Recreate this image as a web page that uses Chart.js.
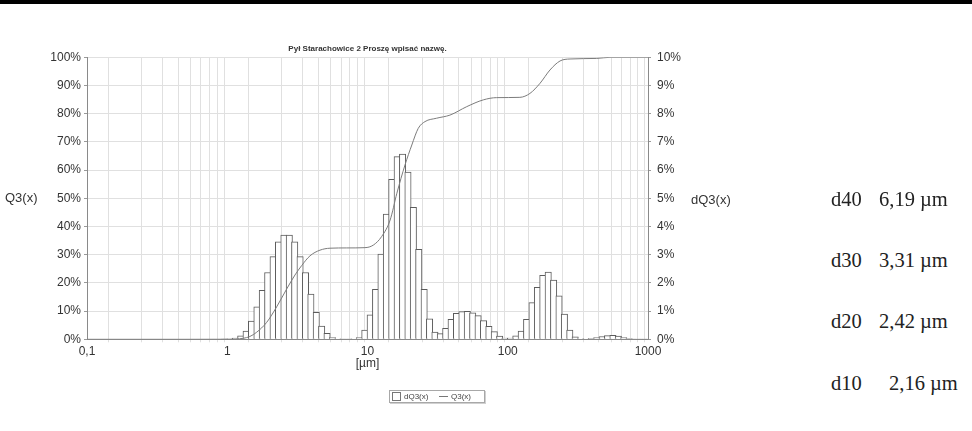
<!DOCTYPE html>
<html>
<head>
<meta charset="utf-8">
<script src="https://cdn.jsdelivr.net/npm/chart.js@4.4.1/dist/chart.umd.min.js"></script>
<style>
html,body{margin:0;padding:0;background:#fff;}
body{width:972px;height:431px;position:relative;overflow:hidden;font-family:"Liberation Sans",Arial,sans-serif;}
#pasek{position:absolute;left:0;top:0;width:972px;height:4px;background:#000;}
#wykres{position:absolute;left:0;top:0;}
.os{position:absolute;font-size:13px;color:#333;line-height:1;transform:translateY(-50%);white-space:nowrap;}
.dval{position:absolute;font-family:"Liberation Serif","Times New Roman",serif;font-size:20.5px;color:#222;line-height:1;transform:translateY(-50%);white-space:nowrap;}
#legenda{position:absolute;left:389px;top:390px;width:94px;height:11px;border:1px solid #a8a8a8;box-shadow:1px 1px 0 #d0d0d0;font-size:8px;color:#444;}
#legenda span{position:absolute;top:1px;line-height:9px;}
#kwadrat{position:absolute;left:2px;top:1px;width:7px;height:7px;border:1px solid #777;background:#fff;}
#kreska{position:absolute;left:49px;top:5px;width:9px;height:1px;background:#777;}
</style>
</head>
<body>
<div id="pasek"></div>
<canvas id="wykres" width="735" height="431"></canvas>
<div class="os" style="left:5px;top:197px;">Q3(x)</div>
<div class="os" style="left:691px;top:199px;">dQ3(x)</div>

<div class="dval" style="left:831px;top:199px;">d40</div>
<div class="dval" style="left:879px;top:199px;">6,19 µm</div>
<div class="dval" style="left:831px;top:260px;">d30</div>
<div class="dval" style="left:879px;top:260px;">3,31 µm</div>
<div class="dval" style="left:831px;top:321px;">d20</div>
<div class="dval" style="left:879px;top:321px;">2,42 µm</div>
<div class="dval" style="left:831px;top:383px;">d10</div>
<div class="dval" style="left:889px;top:383px;">2,16 µm</div>

<div id="legenda">
    <div id="kwadrat"></div><span style="left:14px;">dQ3(x)</span>
    <div id="kreska"></div><span style="left:61px;">Q3(x)</span>
</div>

<script>
//srodki klas ziarnowych [µm] (26 klas na dekade)
const srodkiKlas=[
    0.9567,1.045,1.142,1.248,1.363,1.490,1.628,1.778,1.943,2.123,2.320,2.535,2.769,3.026,3.306,3.612,3.947,4.312,4.711,5.148,5.624,6.145,6.714,7.336,8.015,8.757,9.568,
    10.45,11.42,12.48,13.63,14.90,16.28,17.78,19.43,21.23,23.20,25.35,27.69,30.26,33.06,36.12,39.47,43.12,47.11,51.48,56.24,61.45,67.14,73.36,80.15,87.57,95.68,
    104.5,114.2,124.8,136.3,149.0,162.8,177.8,194.3,212.3,232.0,253.5,276.9,302.6,330.6,361.2,394.7,431.2,471.1,514.8,562.4,614.5,671.4,733.6,801.5,875.7,956.8
];
const dQ3=[
    0.01,0.02,0.04,0.12,0.29,0.65,1.15,1.74,2.37,2.93,3.46,3.70,3.70,3.46,2.93,2.37,1.60,0.96,0.47,0.21,0.06,0.02,0.01,0.01,0.02,0.06,0.33,
    0.87,1.77,3.02,4.44,5.67,6.48,6.57,5.93,4.68,3.19,1.77,0.73,0.26,0.20,0.39,0.71,0.92,0.98,0.99,0.94,0.84,0.66,0.46,0.27,0.11,0.04,
    0.04,0.12,0.29,0.71,1.30,1.84,2.27,2.38,2.10,1.54,0.89,0.33,0.09,0.02,0.02,0.03,0.06,0.10,0.13,0.14,0.11,0.06,0.03,0.01,0.01,0.01
];
//krzywa sumaryczna Q3(x)
const q3Srednice=[0.1,0.5,1.0,1.15,1.30,1.45,1.62,1.91,2.25,2.65,3.04,3.40,3.89,4.58,5.40,7.11,9.60,11.0,12.6,14.5,16.2,18.5,20.7,23.0,25.7,31.1,38.7,51.0,66.9,83.4,122,144,170,200,236,278,431,536,1000];
const q3Wartosci=[0,0,0.02,0.1,0.35,1.0,2.5,6.0,11.5,17.8,22.8,26.2,29.6,31.6,32.3,32.4,32.5,33.4,36.4,42.3,51.8,61.8,68.9,74.8,77.2,78.4,79.5,82.5,84.9,85.7,85.8,87.2,90.8,95.5,98.7,99.4,99.6,100,100];

//podzialki osi x
const wartosciX=[0.1,1,10,100,1000];
const etykietyX=['0,1','1','10','100','1000'];

const tytul='Pył Starachowice 2 Proszę wpisać nazwę.';
const czcionka='"Liberation Sans", Arial, sans-serif';

function etykietaX(v)
{
    const i=wartosciX.findIndex(w=>Math.abs(w-v)/w<1e-6);
    return i>=0?etykietyX[i]:'';
}

function podzialkiX(scale)
{
    const ticks=[];
    for(let d=0.1;d<500;d*=10)
    {
        for(let m=1;m<10;m++)ticks.push({value:m*d});
    }
    ticks.push({value:1000});
    scale.ticks=ticks;
}

const ctx=document.getElementById('wykres');
new Chart(ctx,{
    type:'bar',
    data:{
        datasets:[
            {
                type:'line',
                label:'Q3(x)',
                data:q3Srednice.map((d,i)=>({x:d,y:q3Wartosci[i]})),
                yAxisID:'yQ3',
                borderColor:'#7c7c7c',
                borderWidth:1,
                pointRadius:0,
                cubicInterpolationMode:'monotone',
                fill:false,
                order:0
            },
            {
                type:'bar',
                label:'dQ3(x)',
                data:srodkiKlas.map((d,i)=>({x:d,y:dQ3[i]})),
                yAxisID:'ydQ3',
                backgroundColor:'#ffffff',
                borderColor:'#5c5c5c',
                borderWidth:1,
                barThickness:'flex',
                barPercentage:1.18, //sasiednie slupki nachodza o 1px, jedna kreska miedzy nimi
                categoryPercentage:1,
                order:1
            }
        ]
    },
    options:{
        responsive:false,
        animation:false,
        layout:{padding:{top:0,left:0,right:0,bottom:55.7}},
        plugins:{
            legend:{display:false},
            tooltip:{enabled:false},
            title:{
                display:true,
                text:tytul,
                color:'#333',
                font:{family:czcionka,size:8,weight:'bold'},
                padding:{top:44.2,bottom:3.5}
            }
        },
        scales:{
            x:{
                type:'logarithmic',
                min:0.1,
                max:1000,
                afterBuildTicks:podzialkiX,
                afterFit:function(s){s.height=36;},
                ticks:{autoSkip:false,maxRotation:0,padding:2,color:'#333',font:{family:czcionka,size:12},callback:v=>etykietaX(v)},
                grid:{color:'#e0e0e0',tickLength:3,tickColor:'#e0e0e0'},
                border:{color:'#8a8a8a'},
                title:{display:true,text:'[µm]',color:'#333',font:{family:czcionka,size:12},padding:{top:0,bottom:4}}
            },
            yQ3:{
                position:'left',
                min:0,
                max:100,
                afterFit:function(s){s.width=87;},
                ticks:{stepSize:10,padding:3,color:'#333',font:{family:czcionka,size:12},callback:v=>v+'%'},
                grid:{color:'#e0e0e0',tickLength:3,tickColor:'#9a9a9a'},
                border:{color:'#8a8a8a'}
            },
            ydQ3:{
                position:'right',
                min:0,
                max:10,
                afterFit:function(s){s.width=87;},
                ticks:{stepSize:1,padding:6,color:'#333',font:{family:czcionka,size:12},callback:v=>v+'%'},
                grid:{drawOnChartArea:false,tickLength:3,tickColor:'#9a9a9a'},
                border:{color:'#8a8a8a'}
            }
        }
    }
});
</script>
</body>
</html>
